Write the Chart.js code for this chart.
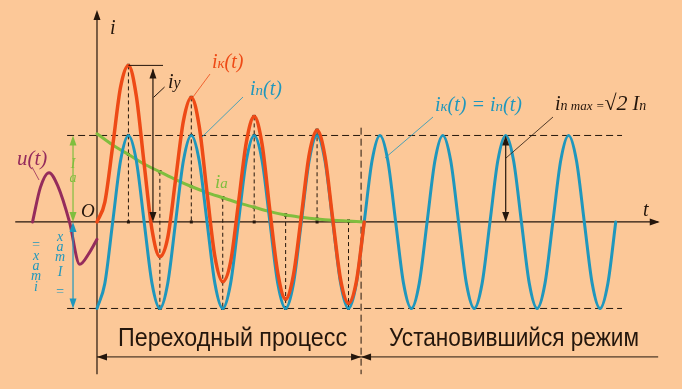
<!DOCTYPE html>
<html>
<head>
<meta charset="utf-8">
<script src="https://cdn.jsdelivr.net/npm/chart.js@4.4.0/dist/chart.umd.min.js"></script>
<style>
  html, body { margin: 0; padding: 0; background: #FCC898; }
  canvas { display: block; }
</style>
</head>
<body>
<canvas id="c" width="682" height="389"></canvas>
<script>
// время в восьмых долях периода, ток в долях амплитуды Im
// iп(t) - установившийся ток, отсчёт каждые 1/8 периода
const inValues = [
  -1, -0.71, 0, 0.71, 1, 0.71, 0, -0.71,
  -1, -0.71, 0, 0.71, 1, 0.71, 0, -0.71,
  -1, -0.71, 0, 0.71, 1, 0.71, 0, -0.71,
  -1, -0.71, 0, 0.71, 1, 0.71, 0, -0.71,
  -1, -0.71, 0, 0.71, 1, 0.71, 0, -0.71,
  -1, -0.71, 0, 0.71, 1, 0.71, 0, -0.71,
  -1, -0.71, 0, 0.71, 1, 0.71, 0, -0.71,
  -1, -0.71, 0, 0.71, 1, 0.71, 0, -0.71,
  -1, -0.71, 0
];
// iк(t) - ток короткого замыкания, каждые 1/8 периода
const ikValues = [
  0, 0.23, 0.88, 1.56, 1.81, 1.46, 0.67, -0.09,
  -0.40, -0.18, 0.49, 1.17, 1.44, 1.11, 0.34, -0.40,
  -0.69, -0.46, 0.22, 0.92, 1.22, 0.90, 0.13, -0.59,
  -0.89, -0.61, 0.07, 0.78, 1.06, 0.76, 0.03, -0.67,
  -0.94, -0.69, 0
];
// iа(t) - апериодическая составляющая, каждые 1/4 периода
const iaValues = [1.02, 0.89, 0.78, 0.67, 0.58, 0.49, 0.41, 0.34, 0.28,
  0.22, 0.17, 0.12, 0.08, 0.055, 0.035, 0.02, 0.01, 0];
// u(t) - напряжение до t = 0
const uTimes = [-8.2, -7.2, -6.1, -5, -3.5, -2.2, -1, 0];
const uValues = [0, 0.40, 0.57, 0.42, 0, -0.49, -0.36, -0.2];

const RED = '#EE4A16';
const BLUE = '#1F97BD';
const GREEN = '#80BE3E';
const PURPLE = '#952C5C';
const INK = '#24160C';
const SERIF = '"Liberation Serif", "DejaVu Serif", serif';
const SANS = '"Liberation Sans", Arial, sans-serif';

function arrowHead(ctx, x, y, dir, color) {
  const L = 10, W = 3.5;
  ctx.save();
  ctx.fillStyle = color;
  ctx.beginPath();
  ctx.moveTo(x, y);
  if (dir === 'up') { ctx.lineTo(x - W, y + L); ctx.lineTo(x + W, y + L); }
  if (dir === 'down') { ctx.lineTo(x - W, y - L); ctx.lineTo(x + W, y - L); }
  if (dir === 'left') { ctx.lineTo(x + L, y - W); ctx.lineTo(x + L, y + W); }
  if (dir === 'right') { ctx.lineTo(x - L, y - W); ctx.lineTo(x - L, y + W); }
  ctx.closePath();
  ctx.fill();
  ctx.restore();
}

function line(ctx, x1, y1, x2, y2, color, width, dash) {
  ctx.save();
  ctx.strokeStyle = color;
  ctx.lineWidth = width || 1;
  ctx.setLineDash(dash || []);
  ctx.beginPath();
  ctx.moveTo(x1, y1);
  ctx.lineTo(x2, y2);
  ctx.stroke();
  ctx.restore();
}

// текст из кусков: [строка, размер, сдвиг по вертикали]
function richText(ctx, parts, x, y, color, family) {
  ctx.save();
  ctx.fillStyle = color;
  ctx.textBaseline = 'alphabetic';
  let cx = x;
  for (const p of parts) {
    ctx.font = 'italic ' + p[1] + 'px ' + family;
    ctx.fillText(p[0], cx, y + (p[2] || 0));
    cx += ctx.measureText(p[0]).width;
  }
  ctx.restore();
}

// надпись, сжатая по ширине до заданной
function fitText(ctx, text, x, y, width, size, color) {
  ctx.save();
  ctx.fillStyle = color;
  ctx.font = size + 'px ' + SANS;
  ctx.textBaseline = 'alphabetic';
  const w = ctx.measureText(text).width;
  ctx.translate(x, y);
  ctx.scale(width / w, 1);
  ctx.fillText(text, 0, 0);
  ctx.restore();
}

function stack(ctx, chars, x, ys, color, size) {
  ctx.save();
  ctx.fillStyle = color;
  ctx.font = 'italic ' + size + 'px ' + SERIF;
  ctx.textAlign = 'center';
  ctx.textBaseline = 'middle';
  chars.forEach((ch, i) => ctx.fillText(ch, x, ys[i]));
  ctx.restore();
}

const decor = {
  id: 'decor',
  beforeDatasetsDraw(chart) {
    const ctx = chart.ctx;
    const px = v => chart.scales.x.getPixelForValue(v);
    const py = v => chart.scales.y.getPixelForValue(v);
    const dash = [7, 4];

    // пунктир уровней амплитуды
    line(ctx, px(-3.8), py(1), px(66.8), py(1), INK, 1, dash);
    line(ctx, px(-3.8), py(-1), px(66.8), py(-1), INK, 1, dash);

    // пунктирные вертикали через полпериода
    for (let k = 4; k <= 32; k += 4) {
      const top = (k % 8 === 4) ? ikValues[k] : iaValues[k / 2];
      const bottom = (k % 8 === 4) ? 0 : inValues[k];
      line(ctx, px(k), py(top), px(k), py(bottom), INK, 1, [4, 3]);
      ctx.fillStyle = INK;
      [top, bottom, iaValues[k / 2], inValues[k], ikValues[k]].forEach(v => {
        ctx.fillRect(px(k) - 1.5, py(v) - 1.5, 3, 3);
      });
    }

    // граница переходного процесса
    line(ctx, px(33.6), py(1.09), px(33.6), py(-1.76), INK, 1, dash);

    // оси
    line(ctx, px(-10.4), py(0), px(71.4), py(0), INK, 1.2);
    arrowHead(ctx, px(71.6), py(0), 'right', INK);
    line(ctx, px(0), py(-1.76), px(0), py(2.4), INK, 1.2);
    arrowHead(ctx, px(0), py(2.45), 'up', INK);
  },
  afterDatasetsDraw(chart) {
    const ctx = chart.ctx;
    const px = v => chart.scales.x.getPixelForValue(v);
    const py = v => chart.scales.y.getPixelForValue(v);

    // iу - ударный ток
    line(ctx, px(4), py(ikValues[4]), px(8.4), py(ikValues[4]), INK, 1);
    line(ctx, px(7.12), py(ikValues[4]) + 4, px(7.12), py(0) - 4, INK, 1.2);
    arrowHead(ctx, px(7.12), py(ikValues[4]) + 3, 'up', INK);
    arrowHead(ctx, px(7.12), py(0), 'down', INK);
    line(ctx, px(7.2), py(1.44), px(8.6), py(1.56), INK, 1);

    // амплитуда установившегося тока
    line(ctx, px(52), py(1) + 4, px(52), py(0) - 4, INK, 1.2);
    arrowHead(ctx, px(52), py(1), 'up', INK);
    arrowHead(ctx, px(52), py(0), 'down', INK);

    // стрелки слева
    line(ctx, px(-3.05), py(1) + 4, px(-3.05), py(0) - 4, GREEN, 1.2);
    arrowHead(ctx, px(-3.05), py(1), 'up', GREEN);
    arrowHead(ctx, px(-3.05), py(0), 'down', GREEN);
    line(ctx, px(-3.05), py(0) + 4, px(-3.05), py(-1) - 4, BLUE, 1.2);
    arrowHead(ctx, px(-3.05), py(0), 'up', BLUE);
    arrowHead(ctx, px(-3.05), py(-1), 'down', BLUE);

    // выноски
    line(ctx, 32, 167, 39, 180, PURPLE, 0.8);
    line(ctx, 210, 74, 193, 97, RED, 0.8);
    line(ctx, 243, 97, 202, 137, BLUE, 0.8);
    line(ctx, 433, 117, 385, 158, BLUE, 0.8);
    line(ctx, 553, 117, 506, 158, INK, 0.8);

    // подписи
    richText(ctx, [['i', 20]], 110, 34, INK, SERIF);
    richText(ctx, [['t', 20]], 643, 216, INK, SERIF);
    richText(ctx, [['O', 19]], 81, 217, INK, SERIF);
    richText(ctx, [['u(t)', 21]], 17, 165, PURPLE, SERIF);
    richText(ctx, [['i', 20], ['к', 15], ['(t)', 20]], 212, 68, RED, SERIF);
    richText(ctx, [['i', 20], ['п', 15], ['(t)', 20]], 250, 95, BLUE, SERIF);
    richText(ctx, [['i', 20], ['у', 16]], 168, 88, INK, SERIF);
    richText(ctx, [['i', 19], ['а', 15]], 215, 188, GREEN, SERIF);
    richText(ctx, [['i', 20], ['к', 15], ['(t) = ', 20], ['i', 20], ['п', 15], ['(t)', 20]], 435, 111, BLUE, SERIF);
    richText(ctx, [['i', 20], ['п', 14], [' max =', 13], ['√2', 22], [' I', 20], ['п', 14]], 555, 110, INK, SERIF);

    stack(ctx, ['I', 'a'], px(-3.05), [164, 178], GREEN, 14);
    stack(ctx, ['=', 'x', 'a', 'm', 'i'], 36, [245, 256, 266, 276, 287], BLUE, 14);
    stack(ctx, ['x', 'a', 'm', 'I', '='], 60, [237, 247, 257, 272, 292], BLUE, 14);

    // нижняя размерная линия
    const yd = py(-1.56);
    line(ctx, px(0), yd, px(33.6), yd, INK, 1);
    arrowHead(ctx, px(0), yd, 'left', INK);
    arrowHead(ctx, px(33.6), yd, 'right', INK);
    line(ctx, px(33.6), yd, px(71.4), yd, INK, 1);
    arrowHead(ctx, px(33.6), yd, 'left', INK);

    fitText(ctx, 'Переходный процесс', 118, 346, 229, 26, INK);
    fitText(ctx, 'Установившийся режим', 389, 346, 250, 26, INK);
  }
};

const curveStyle = {
  pointRadius: 0,
  fill: false,
  cubicInterpolationMode: 'monotone',
  borderCapStyle: 'round',
  borderJoinStyle: 'round'
};

new Chart(document.getElementById('c'), {
  type: 'line',
  data: {
    datasets: [
      Object.assign({
        label: 'iк(t)',
        data: ikValues.map((v, k) => ({ x: k, y: v })),
        borderColor: RED,
        borderWidth: 3.5,
        order: 1
      }, curveStyle),
      Object.assign({
        label: 'iп(t)',
        data: inValues.map((v, k) => ({ x: k, y: v })),
        borderColor: BLUE,
        borderWidth: 3,
        order: 2
      }, curveStyle),
      Object.assign({
        label: 'iа(t)',
        data: iaValues.map((v, k) => ({ x: 2 * k, y: v })),
        borderColor: GREEN,
        borderWidth: 3,
        order: 3
      }, curveStyle),
      Object.assign({
        label: 'u(t)',
        data: uValues.map((v, k) => ({ x: uTimes[k], y: v })),
        borderColor: PURPLE,
        borderWidth: 3,
        order: 4
      }, curveStyle)
    ]
  },
  options: {
    responsive: false,
    animation: false,
    devicePixelRatio: 1,
    layout: { padding: 0 },
    plugins: { legend: { display: false }, tooltip: { enabled: false } },
    scales: {
      x: { type: 'linear', min: -12.34, max: 74.43, display: false },
      y: { type: 'linear', min: -1.931, max: 2.566, display: false }
    }
  },
  plugins: [decor]
});
</script>
</body>
</html>
